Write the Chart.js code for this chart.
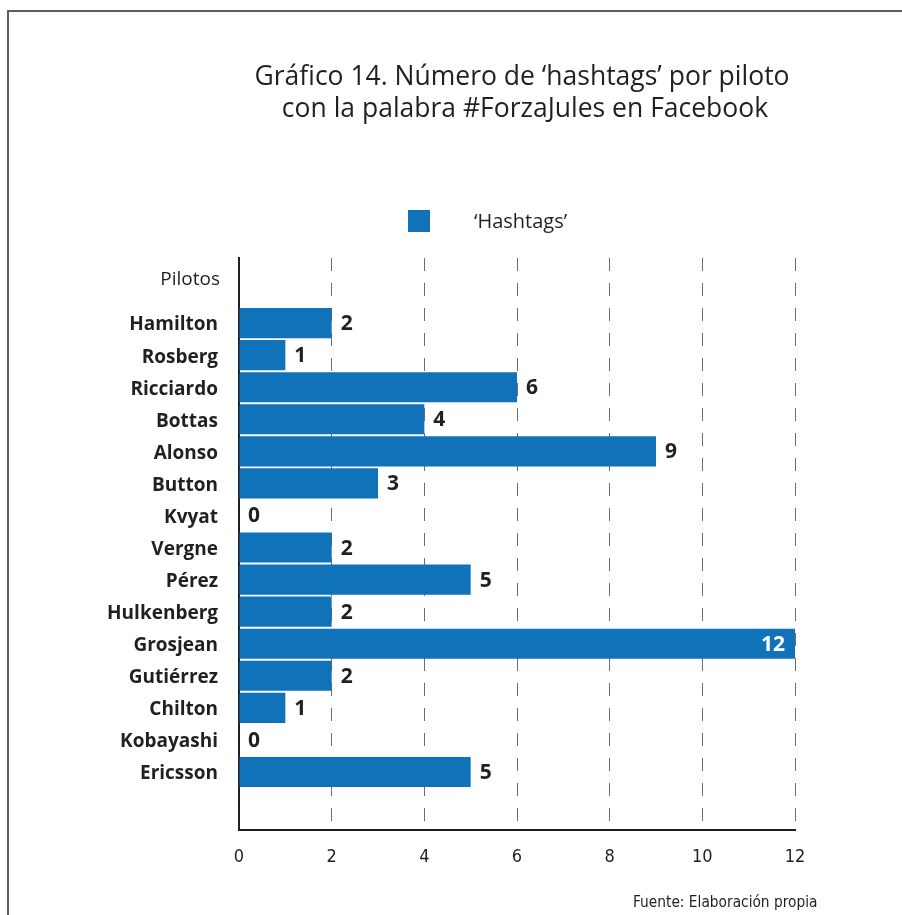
<!DOCTYPE html>
<html lang="es">
<head>
<meta charset="utf-8">
<title>Gráfico 14</title>
<script src="https://cdn.jsdelivr.net/npm/chart.js@4.4.1/dist/chart.umd.min.js"></script>
<style>
    html, body { margin: 0; padding: 0; background: #fff; overflow: hidden; }
    #wrap { position: relative; width: 902px; height: 915px; }
</style>
</head>
<body>
<div id="wrap"><canvas id="chart"></canvas></div>
<script>
// Datos del gráfico
const pilots = ['Hamilton', 'Rosberg', 'Ricciardo', 'Bottas', 'Alonso', 'Button', 'Kvyat',
    'Vergne', 'Pérez', 'Hulkenberg', 'Grosjean', 'Gutiérrez', 'Chilton', 'Kobayashi', 'Ericsson'];
const hashtags = [2, 1, 6, 4, 9, 3, 0, 2, 5, 2, 12, 2, 1, 0, 5];
const xTicks = [0, 2, 4, 6, 8, 10, 12];
const seriesLabel = '\u2018Hashtags\u2019';
const titleLines = ['Gráfico 14. Número de \u2018hashtags\u2019 por piloto', 'con la palabra #ForzaJules en Facebook'];
const axisTitle = 'Pilotos';
const sourceText = 'Fuente: Elaboración propia';

const BLUE = '#1072b9';
const INK = '#231f20';

// Marco, título, leyenda y etiquetas
const decorPlugin = {
    id: 'decor',
    beforeDraw(chart) {
        const ctx = chart.ctx;
        ctx.save();
        ctx.strokeStyle = '#5d5d5d';
        ctx.lineWidth = 2;
        ctx.beginPath();
        ctx.moveTo(8, 915);
        ctx.lineTo(8, 11);
        ctx.lineTo(902, 11);
        ctx.stroke();
        ctx.restore();
    },
    afterDraw(chart) {
        const ctx = chart.ctx;
        ctx.save();
        ctx.fillStyle = INK;
        ctx.textBaseline = 'middle';

        // título
        ctx.textAlign = 'center';
        ctx.font = '26.5px "Open Sans", sans-serif';
        ctx.fillText(titleLines[0], 522, 77);
        ctx.fillText(titleLines[1], 525, 109);

        // leyenda
        ctx.fillStyle = BLUE;
        ctx.fillRect(408, 210, 22, 22);
        ctx.fillStyle = INK;
        ctx.textAlign = 'left';
        ctx.font = '20px "Open Sans", sans-serif';
        ctx.fillText(seriesLabel, 474, 222);

        // título del eje
        ctx.textAlign = 'right';
        ctx.font = '19px "Open Sans", sans-serif';
        ctx.fillText(axisTitle, 220, 280);

        // fuente
        ctx.font = '15.3px "DejaVu Sans Condensed", sans-serif';
        ctx.textAlign = 'left';
        ctx.fillText(sourceText, 633, 903);
        ctx.restore();
    },
    afterDatasetsDraw(chart) {
        const ctx = chart.ctx;
        const meta = chart.getDatasetMeta(0);
        const xMax = chart.scales.x.max;
        ctx.save();
        ctx.font = 'bold 21px "Open Sans", sans-serif';
        ctx.textBaseline = 'middle';
        meta.data.forEach((bar, i) => {
            const v = hashtags[i];
            if (v >= xMax) {
                ctx.fillStyle = '#ffffff';
                ctx.textAlign = 'right';
                ctx.fillText(String(v), bar.x - 10, bar.y + 1);
            } else {
                ctx.fillStyle = INK;
                ctx.textAlign = 'left';
                ctx.fillText(String(v), bar.x + 9, bar.y + 1);
            }
        });
        ctx.restore();
    }
};

const ctx = document.getElementById('chart').getContext('2d');
new Chart(ctx, {
    type: 'bar',
    data: {
        datasets: [{
            label: seriesLabel,
            data: hashtags.map((v, i) => ({ x: v, y: i })),
            backgroundColor: BLUE,
            borderWidth: 0,
            barPercentage: 1,
            categoryPercentage: 0.94
        }]
    },
    options: {
        indexAxis: 'y',
        responsive: true,
        maintainAspectRatio: false,
        animation: false,
        layout: { padding: { top: 258, right: 107, left: 0, bottom: 0 } },
        plugins: {
            legend: { display: false },
            title: { display: false },
            tooltip: { enabled: false }
        },
        scales: {
            x: {
                type: 'linear',
                min: 0,
                max: 12,
                afterBuildTicks: s => { s.ticks = xTicks.map(v => ({ value: v })); },
                afterFit: s => { s.height = 85; },
                grid: {
                    color: '#6d6e71',
                    lineWidth: 1,
                    drawTicks: false
                },
                // en v4 "dash" se aplica a las líneas de la cuadrícula
                border: { display: true, color: INK, width: 2, dash: [13, 12] },
                ticks: {
                    color: INK,
                    padding: 17,
                    font: { family: '"DejaVu Sans Condensed", sans-serif', size: 18 }
                }
            },
            y: {
                type: 'linear',
                reverse: true,
                offset: false,
                min: -2.03,
                max: 15.81,
                afterBuildTicks: s => { s.ticks = pilots.map((_, i) => ({ value: i })); },
                afterFit: s => { s.width = 239; },
                grid: { display: false, drawTicks: false, offset: false },
                border: { display: true, color: INK, width: 2 },
                ticks: {
                    color: INK,
                    padding: 21,
                    labelOffset: 2,
                    autoSkip: false,
                    font: { family: '"Open Sans", sans-serif', size: 19, weight: 'bold' },
                    callback: v => pilots[Math.round(v)] || ''
                }
            }
        }
    },
    plugins: [decorPlugin]
});
</script>
</body>
</html>
